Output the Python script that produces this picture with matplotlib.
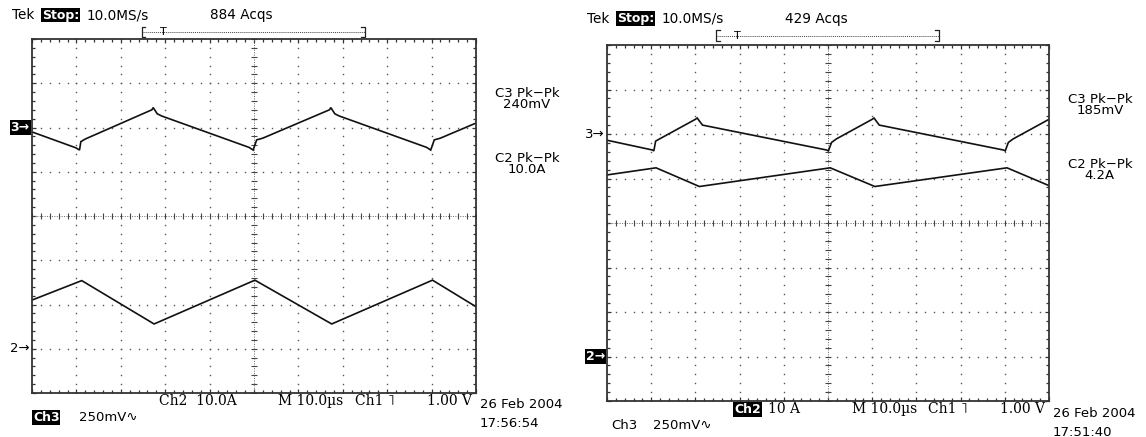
import numpy as np
import matplotlib.pyplot as plt

# traces read off the two Tek screens, x and y in divisions
# left screen (884 Acqs)
l_ch3_x = [0.0, 0.99, 1.07, 1.10, 1.20, 2.70, 2.73, 2.82, 2.92, 4.89, 4.98, 5.06, 5.20,
           6.70, 6.73, 6.82, 6.92, 8.89, 8.98, 9.06, 9.20, 10.0]
l_ch3_y = [1.90, 1.54, 1.49, 1.68, 1.74, 2.40, 2.45, 2.31, 2.26, 1.55, 1.49, 1.72, 1.76,
           2.40, 2.45, 2.31, 2.26, 1.55, 1.49, 1.72, 1.76, 2.10]
l_ch2_x = [0.0, 1.12, 2.75, 5.02, 6.75, 9.02, 10.0]
l_ch2_y = [-1.90, -1.46, -2.44, -1.45, -2.44, -1.45, -2.05]

# right screen (429 Acqs)
r_ch3_x = [0.0, 1.03, 1.06, 1.10, 1.19, 2.00, 2.04, 2.16, 4.97, 5.01, 5.08, 5.19,
           6.00, 6.04, 6.16, 8.97, 9.01, 9.08, 9.19, 10.0]
r_ch3_y = [1.86, 1.64, 1.62, 1.84, 1.89, 2.33, 2.36, 2.20, 1.64, 1.62, 1.81, 1.89,
           2.33, 2.36, 2.20, 1.64, 1.62, 1.81, 1.89, 2.33]
r_ch2_x = [0.0, 1.11, 2.09, 5.05, 6.06, 9.05, 10.0]
r_ch2_y = [1.08, 1.24, 0.82, 1.24, 0.82, 1.24, 0.84]

left_info = {'acqs': '884 Acqs', 'c3': '240mV', 'c2': '10.0A', 'ch2': '10.0A',
             'date': '26 Feb 2004', 'time': '17:56:54'}
right_info = {'acqs': '429 Acqs', 'c3': '185mV', 'c2': '4.2A', 'ch2': '10 A',
              'date': '26 Feb 2004', 'time': '17:51:40'}

SANS = ['DejaVu Sans', 'Noto Sans']
SERIF = ['DejaVu Serif', 'Liberation Serif']
FS = 9.5


def boxed(ax, x, y, s, **kw):
    ax.text(x, y, s, color='white', fontsize=FS - 0.5, family=SANS, fontweight='bold',
            bbox=dict(facecolor='black', edgecolor='none', pad=0.6), **kw)


def graticule(ax):
    ax.set_xlim(0, 10)
    ax.set_ylim(-4, 4)
    for sp in ax.spines.values():
        sp.set_color('#333333')
        sp.set_linewidth(1.3)
    ax.set_xticks(np.arange(0, 10.01, 1))
    ax.set_yticks(np.arange(-4, 4.01, 1))
    ax.set_xticks(np.arange(0, 10.01, 0.2), minor=True)
    ax.set_yticks(np.arange(-4, 4.01, 0.2), minor=True)
    ax.tick_params(which='both', direction='in', top=True, right=True,
                   labelbottom=False, labelleft=False, color='#333333', width=0.9)
    ax.tick_params(which='major', length=3)
    ax.tick_params(which='minor', length=2.5)
    # dotted division lines
    dx = np.arange(0, 10.01, 0.2)
    dy = np.arange(-4, 4.01, 0.2)
    for gx in range(1, 10):
        if gx == 5:
            continue
        ax.plot(np.full_like(dy, gx), dy, ls='none', marker='s', ms=1.0,
                color='#555555', mew=0)
    for gy in range(-3, 4):
        if gy == 0:
            continue
        ax.plot(dx, np.full_like(dx, gy), ls='none', marker='s', ms=1.0,
                color='#555555', mew=0)
    # centre axes with minor crossticks
    ax.axhline(0, color='#666666', lw=0.7, ls=(0, (1, 1.5)))
    ax.axvline(5, color='#666666', lw=0.7, ls=(0, (1, 1.5)))
    ax.plot(dx, np.zeros_like(dx), ls='none', marker='|', ms=4, mew=0.8, color='#444444')
    ax.plot(np.full_like(dy, 5), dy, ls='none', marker='_', ms=4, mew=0.8, color='#444444')


def screen(ax, ch3x, ch3y, ch2x, ch2y, info, box3, ytop):
    graticule(ax)
    ax.plot(ch3x, ch3y, color='#111111', lw=1.2, solid_joinstyle='miter')
    ax.plot(ch2x, ch2y, color='#111111', lw=1.2, solid_joinstyle='miter')

    # header
    ax.text(-0.45, ytop, 'Tek', fontsize=FS + 0.3, family=SANS, va='center')
    boxed(ax, 0.22, ytop, 'Stop:', va='center')
    ax.text(1.24, ytop, '10.0MS/s', fontsize=FS + 0.3, family=SANS, va='center')
    ax.text(4.02, ytop, info['acqs'], fontsize=FS + 0.3, family=SANS, va='center')
    # record bracket  [--T--------]
    yb = ytop - 0.38
    ax.plot([2.47, 7.5], [yb, yb], color='#444444', lw=0.7, ls=(0, (1, 1)), clip_on=False)
    for bx, d in ((2.47, 0.08), (7.5, -0.08)):
        ax.plot([bx + d, bx, bx, bx + d], [yb + 0.12, yb + 0.12, yb - 0.12, yb - 0.12],
                color='#222222', lw=0.9, clip_on=False)
    ax.text(2.95, yb, 'T', fontsize=8, family=SANS, ha='center', va='center')

    # channel markers
    if box3:
        boxed(ax, -0.05, 2, '3\u2192', ha='right', va='center')
        ax.text(-0.05, -3, '2\u2192', fontsize=FS, family=SANS, ha='right', va='center')
    else:
        ax.text(-0.05, 2, '3\u2192', fontsize=FS, family=SANS, ha='right', va='center')
        boxed(ax, -0.05, -3, '2\u2192', ha='right', va='center')

    # measurements
    ax.text(11.15, 2.77, 'C3 Pk\u2212Pk', fontsize=FS, family=SANS, ha='center', va='center')
    ax.text(11.15, 2.52, info['c3'], fontsize=FS, family=SANS, ha='center', va='center')
    ax.text(11.15, 1.31, 'C2 Pk\u2212Pk', fontsize=FS, family=SANS, ha='center', va='center')
    ax.text(11.15, 1.06, info['c2'], fontsize=FS, family=SANS, ha='center', va='center')

    # bottom status line
    yl = -4.19
    if box3:
        ax.text(2.86, yl, 'Ch2  ' + info['ch2'], fontsize=FS + 0.5, family=SERIF, va='center')
        boxed(ax, 0.02, -4.55, 'Ch3', va='center')
    else:
        boxed(ax, 2.88, yl, 'Ch2', va='center')
        ax.text(3.64, yl, info['ch2'], fontsize=FS + 0.5, family=SERIF, va='center')
        ax.text(0.09, -4.55, 'Ch3', fontsize=FS, family=SANS, va='center')
    ax.text(1.05, -4.55, '250mV\u223f', fontsize=FS, family=SANS, va='center')
    ax.text(5.55, yl, 'M 10.0\u00b5s', fontsize=FS + 0.5, family=SERIF, va='center')
    ax.text(7.27, yl, 'Ch1 \u02e5', fontsize=FS + 0.5, family=SERIF, va='center')
    ax.text(9.9, yl, '1.00 V', fontsize=FS + 0.5, family=SERIF, ha='right', va='center')
    ax.text(10.08, -4.27, info['date'], fontsize=FS, family=SANS, va='center')
    ax.text(10.08, -4.70, info['time'], fontsize=FS, family=SANS, va='center')


fig = plt.figure(figsize=(11.46, 4.37), dpi=100)
ax1 = fig.add_axes([32 / 1146, 44 / 437, 444 / 1146, 354 / 437])
ax2 = fig.add_axes([607 / 1146, 36 / 437, 442 / 1146, 356 / 437])

screen(ax1, l_ch3_x, l_ch3_y, l_ch2_x, l_ch2_y, left_info, True, 4.54)
screen(ax2, r_ch3_x, r_ch3_y, r_ch2_x, r_ch2_y, right_info, False, 4.59)

fig.savefig('out.png', dpi=100, facecolor='white')
